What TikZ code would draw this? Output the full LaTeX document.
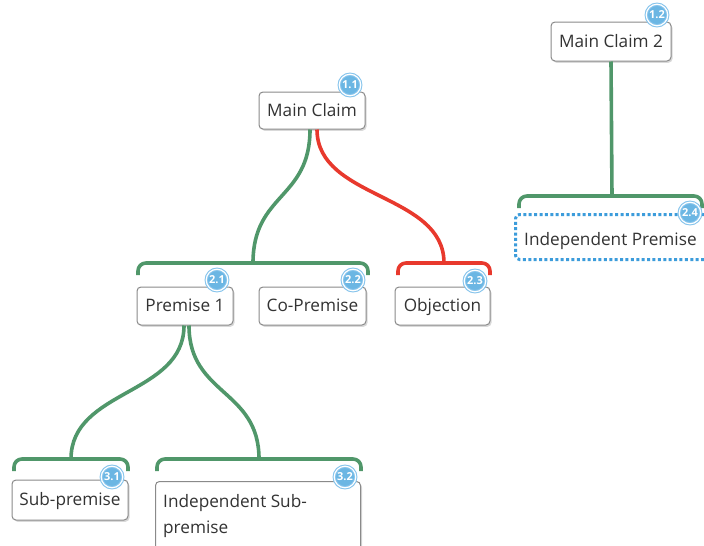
\documentclass[tikz,border=0pt]{standalone}
\usepackage{fontspec}
\setmainfont{Open Sans}
\usetikzlibrary{shadows}
\definecolor{linkgreen}{HTML}{50976A}
\definecolor{linkred}{HTML}{E8392D}
\definecolor{badgeblue}{HTML}{6BB6E3}
\definecolor{badgering}{HTML}{86C4EC}
\definecolor{boxgray}{HTML}{8A8A8A}
\definecolor{textgray}{HTML}{333333}
\definecolor{dotblue}{HTML}{3C9CDB}
\tikzset{
  claimbox/.style={draw=boxgray, line width=1pt, fill=white, rounded corners=4pt,
    drop shadow={shadow xshift=1.5pt, shadow yshift=-1.8pt, opacity=0.3},
    text=textgray, font=\fontsize{17.2}{26}\selectfont, inner sep=0pt,
    text height=12pt, text depth=1pt},
  indepbox/.style={draw=dotblue, line width=3pt, dash pattern=on 3pt off 2.4pt,
    fill=white, rounded corners=4pt, inner sep=0pt},
  badge/.style={circle, fill=badgeblue, draw=badgering, line width=1.1pt,
    double=white, double distance=1.2pt,
    minimum size=21.5pt, inner sep=0pt, text=white,
    font=\fontsize{11}{11}\selectfont\bfseries},
  greenlink/.style={draw=linkgreen, line width=3.6pt},
  redlink/.style={draw=linkred, line width=3.6pt},
  bracket/.style={rounded corners=8pt, line width=3.6pt},
  plaintext/.style={text=textgray, font=\fontsize{17.2}{26}\selectfont, inner sep=0pt}
}
\begin{document}
\begin{tikzpicture}[x=1pt, y=-1pt]
\useasboundingbox (0,0) rectangle (704,546);
\clip (0,0) rectangle (704,546);

% group brackets and their attach points
\coordinate (g1) at (253,263);
\coordinate (g2) at (444,263);
\coordinate (g3) at (612,196);
\coordinate (g4) at (71,459);
\coordinate (g5) at (259,459);
\draw[greenlink, bracket] (138,275) |- (368,263) -- (368,275);
\draw[redlink, bracket] (398,275) |- (490,263) -- (490,275);
\draw[greenlink, bracket] (519,208) |- (702,196) -- (702,208);
\draw[greenlink, bracket] (14,471) |- (128,459) -- (128,471);
\draw[greenlink, bracket] (157,471) |- (361,459) -- (361,471);

% claim and premise boxes
\node[claimbox, minimum width=106pt, minimum height=37pt] (mc) at (312,110.5) {Main Claim};
\node[claimbox, minimum width=120pt, minimum height=39pt] (mc2) at (611,41.5) {Main Claim 2};
\node[claimbox, minimum width=96pt, minimum height=38pt] (p1) at (185,306) {Premise 1};
\node[claimbox, minimum width=107pt, minimum height=38pt] (cp) at (312.5,306) {Co-Premise};
\node[claimbox, minimum width=95pt, minimum height=38pt] (obj) at (442.5,306) {Objection};
\node[indepbox, minimum width=193pt, minimum height=45pt] (ip) at (612,237) {};
\node[plaintext, anchor=base west] (iptext) at (524,245) {Independent Premise};
\node[claimbox, minimum width=116pt, minimum height=40pt] (sp) at (70,500) {Sub-premise};
\node[claimbox, minimum width=205pt, minimum height=75pt, anchor=north west] (isp) at (155,481) {};
\node[plaintext, anchor=base west] (isptext1) at (163,507) {Independent Sub-};
\node[plaintext, anchor=base west] (isptext2) at (163,533) {premise};

% connectors from claims down to their groups
\coordinate (mcl) at ([xshift=-2pt]mc.south);
\coordinate (mcr) at ([xshift=5pt]mc.south);
\coordinate (p1l) at ([xshift=-1pt]p1.south);
\coordinate (p1r) at ([xshift=4pt]p1.south);
\draw[greenlink] (mcl) .. controls ([yshift=-70pt]mcl) and ([yshift=70pt]g1) .. (g1);
\draw[redlink] (mcr) .. controls ([yshift=-70pt]mcr) and ([yshift=70pt]g2) .. (g2);
\draw[greenlink] (mc2.south) -- (g3);
\draw[greenlink] (p1l) .. controls ([yshift=-70pt]p1l) and ([yshift=70pt]g4) .. (g4);
\draw[greenlink] (p1r) .. controls ([yshift=-70pt]p1r) and ([yshift=70pt]g5) .. (g5);

% numbered badges
\node[badge] (b11) at (350,85) {1.1};
\node[badge] (b12) at (657,15) {1.2};
\node[badge] (b21) at (217,280) {2.1};
\node[badge] (b22) at (353,280) {2.2};
\node[badge] (b23) at (475,281) {2.3};
\node[badge] (b24) at (690,213) {2.4};
\node[badge] (b31) at (112,477) {3.1};
\node[badge] (b32) at (345,477) {3.2};
\end{tikzpicture}
\end{document}
